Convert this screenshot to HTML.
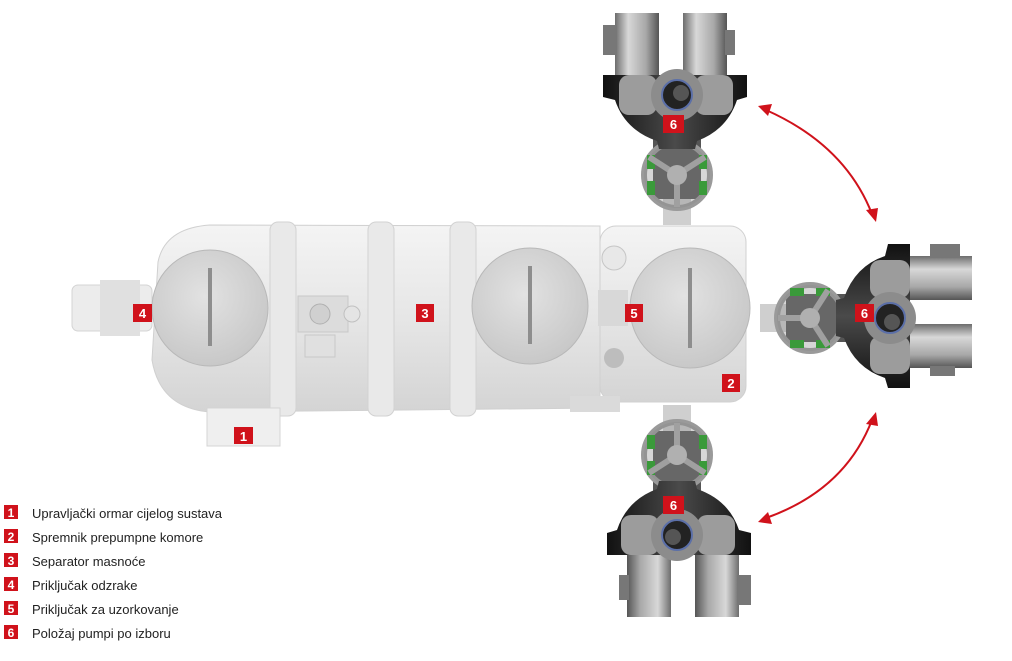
<!DOCTYPE html>
<html><head><meta charset="utf-8">
<style>
html,body{margin:0;padding:0;background:#fff;}
svg{display:block;}
text{font-family:"Liberation Sans",sans-serif;}
</style></head>
<body>
<svg width="1012" height="661" viewBox="0 0 1012 661" xmlns="http://www.w3.org/2000/svg">
<defs>
<linearGradient id="tank" x1="0" y1="0" x2="0" y2="1">
<stop offset="0" stop-color="#f4f4f4"/><stop offset="0.5" stop-color="#e6e6e6"/><stop offset="1" stop-color="#d4d4d4"/></linearGradient>
<radialGradient id="disc" cx="0.45" cy="0.4" r="0.7">
<stop offset="0" stop-color="#e2e2e2"/><stop offset="1" stop-color="#c4c4c4"/></radialGradient>
<linearGradient id="motor" x1="0" y1="0" x2="1" y2="0">
<stop offset="0" stop-color="#6d6d6d"/><stop offset="0.3" stop-color="#d8d8d8"/><stop offset="0.7" stop-color="#a8a8a8"/><stop offset="1" stop-color="#555"/></linearGradient>
<linearGradient id="black" x1="0" y1="0" x2="1" y2="0">
<stop offset="0" stop-color="#111"/><stop offset="0.5" stop-color="#4a4a4a"/><stop offset="1" stop-color="#111"/></linearGradient>
<g id="pump">
  <rect x="-14" y="-30" width="28" height="30" fill="#cfcfcf"/>
  <rect x="-24" y="-86" width="48" height="60" fill="#555"/>
  <circle cx="0" cy="-50" r="33" fill="none" stroke="#9a9a9a" stroke-width="6"/>
  <circle cx="0" cy="-50" r="33" fill="#8a8a8a" fill-opacity="0.35"/>
  <rect x="-30" y="-70" width="8" height="14" fill="#3a9a3a"/><rect x="22" y="-70" width="8" height="14" fill="#3a9a3a"/>
  <rect x="-30" y="-44" width="8" height="14" fill="#3a9a3a"/><rect x="22" y="-44" width="8" height="14" fill="#3a9a3a"/>
  <path d="M0,-50 L-28,-68 M0,-50 L28,-68 M0,-50 L0,-18" stroke="#a0a0a0" stroke-width="6"/>
  <circle cx="0" cy="-50" r="10" fill="#b0b0b0"/>
  <path d="M-74,-150 L70,-150 L70,-128 L60,-125 Q50,-95 20,-84 L18,-76 L-18,-76 L-20,-84 Q-52,-95 -62,-125 L-74,-128 Z" fill="url(#black)"/>
  <rect x="-58" y="-150" width="38" height="40" rx="10" fill="#9c9c9c"/>
  <rect x="18" y="-150" width="38" height="40" rx="10" fill="#9c9c9c"/>
  <rect x="-62" y="-212" width="44" height="62" fill="url(#motor)"/>
  <rect x="6" y="-212" width="44" height="62" fill="url(#motor)"/>
  <rect x="-74" y="-200" width="14" height="30" fill="#777"/>
  <rect x="48" y="-195" width="10" height="25" fill="#777"/>
  <circle cx="0" cy="-130" r="26" fill="#8c8c8c"/>
  <circle cx="0" cy="-130" r="15" fill="#222" stroke="#5b6fa8" stroke-width="2"/>
  <circle cx="4" cy="-132" r="8" fill="#555"/>
</g>
</defs>

<path d="M158,262 Q165,228 210,225 L600,226 L600,408 L210,412 Q160,408 152,360 Z" fill="url(#tank)" stroke="#d0d0d0"/>
<rect x="600" y="226" width="146" height="176" rx="16" fill="url(#tank)" stroke="#d0d0d0"/>
<rect x="270" y="222" width="26" height="194" rx="8" fill="#e9e9e9" stroke="#d2d2d2"/>
<rect x="368" y="222" width="26" height="194" rx="8" fill="#e9e9e9" stroke="#d2d2d2"/>
<rect x="450" y="222" width="26" height="194" rx="8" fill="#e9e9e9" stroke="#d2d2d2"/>
<rect x="72" y="285" width="80" height="46" rx="6" fill="#ececec" stroke="#d4d4d4"/>
<rect x="100" y="280" width="40" height="56" fill="#e0e0e0"/>
<circle cx="210" cy="308" r="58" fill="url(#disc)" stroke="#b8b8b8"/>
<rect x="208" y="268" width="4" height="78" fill="#8e8e8e"/>
<circle cx="530" cy="306" r="58" fill="url(#disc)" stroke="#b8b8b8"/>
<rect x="528" y="266" width="4" height="78" fill="#8e8e8e"/>
<circle cx="690" cy="308" r="60" fill="url(#disc)" stroke="#b8b8b8"/>
<rect x="688" y="268" width="4" height="80" fill="#8e8e8e"/>
<rect x="298" y="296" width="50" height="36" fill="#dcdcdc" stroke="#c8c8c8"/>
<circle cx="320" cy="314" r="10" fill="#d0d0d0" stroke="#b0b0b0"/>
<circle cx="352" cy="314" r="8" fill="#e4e4e4" stroke="#c0c0c0"/>
<rect x="305" y="335" width="30" height="22" fill="#e0e0e0" stroke="#c8c8c8"/>
<circle cx="614" cy="258" r="12" fill="#e8e8e8" stroke="#c6c6c6"/>
<circle cx="614" cy="358" r="10" fill="#bdbdbd"/>
<rect x="598" y="290" width="30" height="36" fill="#d8d8d8"/>
<rect x="207" y="408" width="73" height="38" fill="#efefef" stroke="#d4d4d4"/>
<rect x="570" y="396" width="50" height="16" fill="#dadada"/>

<use href="#pump" transform="translate(677,225)"/>
<use href="#pump" transform="translate(760,318) rotate(90)"/>
<use href="#pump" transform="translate(677,405) rotate(180)"/>

<g stroke="#d0121b" stroke-width="2" fill="none">
<path d="M766,110 Q845,145 872,214"/>
<path d="M872,420 Q845,490 766,518"/>
</g>
<g fill="#d0121b">
<polygon points="758,106 772,104 768,116"/>
<polygon points="876,222 866,210 878,208"/>
<polygon points="876,412 878,426 866,424"/>
<polygon points="758,522 768,512 772,524"/>
</g>

<g font-weight="bold" font-size="13" fill="#fff" text-anchor="middle">
<rect x="133" y="304" width="19" height="18" fill="#d0121b"/><text x="142.5" y="318">4</text>
<rect x="416" y="304" width="18" height="18" fill="#d0121b"/><text x="425" y="318">3</text>
<rect x="625" y="304" width="18" height="18" fill="#d0121b"/><text x="634" y="318">5</text>
<rect x="722" y="374" width="18" height="18" fill="#d0121b"/><text x="731" y="388">2</text>
<rect x="234" y="427" width="19" height="17" fill="#d0121b"/><text x="243.5" y="441">1</text>
<rect x="663" y="115" width="21" height="18" fill="#d0121b"/><text x="673.5" y="129">6</text>
<rect x="855" y="304" width="19" height="18" fill="#d0121b"/><text x="864.5" y="318">6</text>
<rect x="663" y="496" width="21" height="18" fill="#d0121b"/><text x="673.5" y="510">6</text>
</g>

<g font-size="13" fill="#222">
<g font-weight="bold" fill="#fff" text-anchor="middle" font-size="12">
<rect x="4" y="505" width="14" height="14" fill="#d0121b"/><text x="11" y="517">1</text>
<rect x="4" y="529" width="14" height="14" fill="#d0121b"/><text x="11" y="541">2</text>
<rect x="4" y="553" width="14" height="14" fill="#d0121b"/><text x="11" y="565">3</text>
<rect x="4" y="577" width="14" height="14" fill="#d0121b"/><text x="11" y="589">4</text>
<rect x="4" y="601" width="14" height="14" fill="#d0121b"/><text x="11" y="613">5</text>
<rect x="4" y="625" width="14" height="14" fill="#d0121b"/><text x="11" y="637">6</text>
</g>
<text x="32" y="518">Upravljački ormar cijelog sustava</text>
<text x="32" y="542">Spremnik prepumpne komore</text>
<text x="32" y="566">Separator masnoće</text>
<text x="32" y="590">Priključak odzrake</text>
<text x="32" y="614">Priključak za uzorkovanje</text>
<text x="32" y="638">Položaj pumpi po izboru</text>
</g>
</svg>
</body></html>
